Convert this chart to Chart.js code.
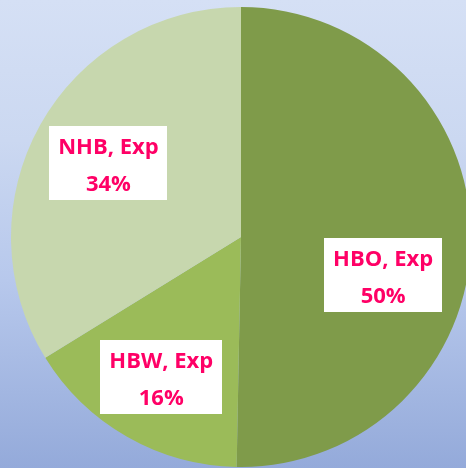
<!DOCTYPE html>
<html>
<head>
<meta charset="utf-8">
<script src="https://cdn.jsdelivr.net/npm/chart.js@4.4.0/dist/chart.umd.min.js"></script>
<style>
  html, body { margin: 0; padding: 0; width: 466px; height: 468px; overflow: hidden; }
  body { background: linear-gradient(to bottom, #D5E0F5 0%, #CBD8F1 30%, #B7C8EC 60%, #94AADA 100%); }
  #wrap { position: absolute; left: 0; top: 0; width: 482px; height: 468px; }
</style>
</head>
<body>
<div id="wrap"><canvas id="c"></canvas></div>
<script>
const categories = ["HBO, Exp", "HBW, Exp", "NHB, Exp"];
const shares = [50.3, 15.9, 33.8];
const shareLabels = ["50%", "16%", "34%"];
const sliceColors = ["#7F9B4A", "#9BBB59", "#C7D7AE"];

const labelPlugin = {
  id: 'boxLabels',
  afterDatasetsDraw(chart, args, opts) {
    const ctx = chart.ctx;
    const meta = chart.getDatasetMeta(0);
    ctx.save();
    ctx.font = opts.font;
    ctx.textAlign = 'center';
    ctx.textBaseline = 'middle';
    meta.data.forEach((arc, i) => {
      const p = arc.getProps(['x', 'y', 'startAngle', 'endAngle', 'outerRadius'], true);
      const mid = (p.startAngle + p.endAngle) / 2 + (opts.angleOffsets[i] || 0) * Math.PI / 180;
      const r = p.outerRadius * opts.radiusFractions[i];
      const cx = p.x + Math.cos(mid) * r;
      const cy = p.y + Math.sin(mid) * r;
      const l1 = chart.data.labels[i];
      const l2 = shareLabels[i];
      const w = Math.max(ctx.measureText(l1).width, ctx.measureText(l2).width) + opts.padX * 2;
      const h = opts.boxH;
      ctx.fillStyle = '#FFFFFF';
      ctx.fillRect(Math.round(cx - w / 2), Math.round(cy - h / 2), Math.round(w), h);
      ctx.fillStyle = opts.color;
      ctx.fillText(l1, cx, cy - opts.lineGap / 2 + opts.textShift);
      ctx.fillText(l2, cx, cy + opts.lineGap / 2 + opts.textShift);
    });
    ctx.restore();
  }
};

new Chart(document.getElementById('c'), {
  type: 'pie',
  data: {
    labels: categories,
    datasets: [{
      data: shares,
      backgroundColor: sliceColors,
      borderWidth: 0
    }]
  },
  options: {
    responsive: true,
    maintainAspectRatio: false,
    animation: false,
    layout: { padding: { top: 7, bottom: 1, left: 0, right: 0 } },
    plugins: {
      legend: { display: false },
      tooltip: { enabled: false },
      boxLabels: {
        font: 'bold 22px "Open Sans", sans-serif',
        color: '#FF0066',
        angleOffsets: [14.5, 0, 0],
        radiusFractions: [0.64, 0.70, 0.66],
        padX: 9,
        boxH: 74,
        lineGap: 37,
        textShift: 3
      }
    }
  },
  plugins: [labelPlugin]
});
</script>
</body>
</html>
